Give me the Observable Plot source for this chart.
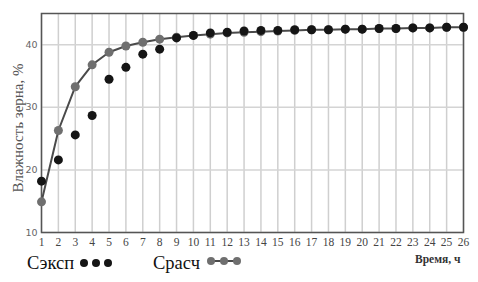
<!DOCTYPE html>
<html><head><meta charset="utf-8">
<script src="https://cdn.jsdelivr.net/npm/d3@7"></script>
<script src="https://cdn.jsdelivr.net/npm/@observablehq/plot@0.6"></script>
<style>
body{margin:0;background:#fff;}
#wrap{position:relative;width:478px;height:282px;overflow:hidden;}
.lg{position:absolute;font-family:"Liberation Serif","Times New Roman",serif;color:#111;line-height:1;white-space:nowrap;}
.ld{position:absolute;}
</style>
</head><body><div id="wrap"></div>
<script>
const hours = d3.range(1, 27);
const expValues = [18.2, 21.6, 25.6, 28.7, 34.5, 36.4, 38.5, 39.3, 41.1, 41.5, 41.9, 42.0, 42.2, 42.3, 42.3, 42.4, 42.4, 42.4, 42.5, 42.5, 42.6, 42.6, 42.7, 42.7, 42.8, 42.8];
const calcValues = [14.9, 26.3, 33.3, 36.8, 38.8, 39.8, 40.4, 40.9, 41.2, 41.5, 41.7, 41.9, 42.0, 42.1, 42.2, 42.3, 42.4, 42.4, 42.5, 42.5, 42.6, 42.6, 42.7, 42.7, 42.8, 42.8];
const yTicks = [10, 20, 30, 40];
const yLabel = "Влажность зерна, %";
const xLabel = "Время, ч";
const legendExp = "Сэксп";
const legendCalc = "Срасч";

const exp = hours.map((h, i) => ({h, v: expValues[i]}));
const calc = hours.map((h, i) => ({h, v: calcValues[i]}));

const chart = Plot.plot({
  width: 478, height: 252,
  marginLeft: 41, marginRight: 15, marginTop: 13, marginBottom: 20,
  x: {domain: [1, 26]},
  y: {domain: [10, 45]},
  style: {background: "#fff", fontFamily: "Liberation Serif"},
  marks: [
    Plot.gridX(hours, {stroke: "#cfcfcf", strokeOpacity: 1, strokeWidth: 1.5}),
    Plot.gridY(yTicks, {stroke: "#d4d4d4", strokeOpacity: 1, strokeWidth: 1.5}),
    Plot.frame({stroke: "#555", strokeWidth: 1.5}),
    Plot.axisX(hours, {tickSize: 0, tickPadding: 5, fontFamily: "Liberation Serif", fontSize: 11.5, fill: "#444", label: null}),
    Plot.axisY(yTicks, {tickSize: 0, tickPadding: 4, fontFamily: "DejaVu Sans", fontSize: 9.5, fill: "#666", label: null}),
    Plot.line(calc, {x: "h", y: "v", stroke: "#4a4a4a", strokeWidth: 2}),
    Plot.dot(calc, {x: "h", y: "v", r: 4.5, fill: "#6f6f6f"}),
    Plot.dot(exp, {x: "h", y: "v", r: 4.5, fill: "#151515"})
  ]
});
const wrap = document.getElementById("wrap");
wrap.appendChild(chart);

function addText(txt, css) {
  const d = document.createElement("div");
  d.className = "lg";
  d.style.cssText = css;
  d.textContent = txt;
  wrap.appendChild(d);
}
function addDots(left, top, fill, withLine, step) {
  const ns = "http://www.w3.org/2000/svg";
  const s = document.createElementNS(ns, "svg");
  s.setAttribute("width", 44); s.setAttribute("height", 12);
  s.setAttribute("class", "ld");
  s.style.left = left + "px"; s.style.top = top + "px";
  const xs = [5, 5 + step, 5 + 2 * step];
  if (withLine) {
    const l = document.createElementNS(ns, "line");
    l.setAttribute("x1", xs[0]); l.setAttribute("x2", xs[2]); l.setAttribute("y1", 6); l.setAttribute("y2", 6);
    l.setAttribute("stroke", "#4a4a4a"); l.setAttribute("stroke-width", 2);
    s.appendChild(l);
  }
  xs.forEach(cx => {
    const c = document.createElementNS(ns, "circle");
    c.setAttribute("cx", cx); c.setAttribute("cy", 6); c.setAttribute("r", 4); c.setAttribute("fill", fill);
    s.appendChild(c);
  });
  wrap.appendChild(s);
}
addText(yLabel, "left:18px;top:128px;font-size:15px;color:#555;transform:translate(-50%,-50%) rotate(-90deg);");
addText(legendExp, "left:27px;top:254px;font-size:18.5px;");
addDots(79, 257, "#151515", false, 12);
addText(legendCalc, "left:153px;top:254px;font-size:18.5px;");
addDots(206, 255, "#6f6f6f", true, 13);
addText(xLabel, "left:415px;top:254px;font-size:11.5px;font-weight:bold;color:#333;");
</script>
</body></html>
